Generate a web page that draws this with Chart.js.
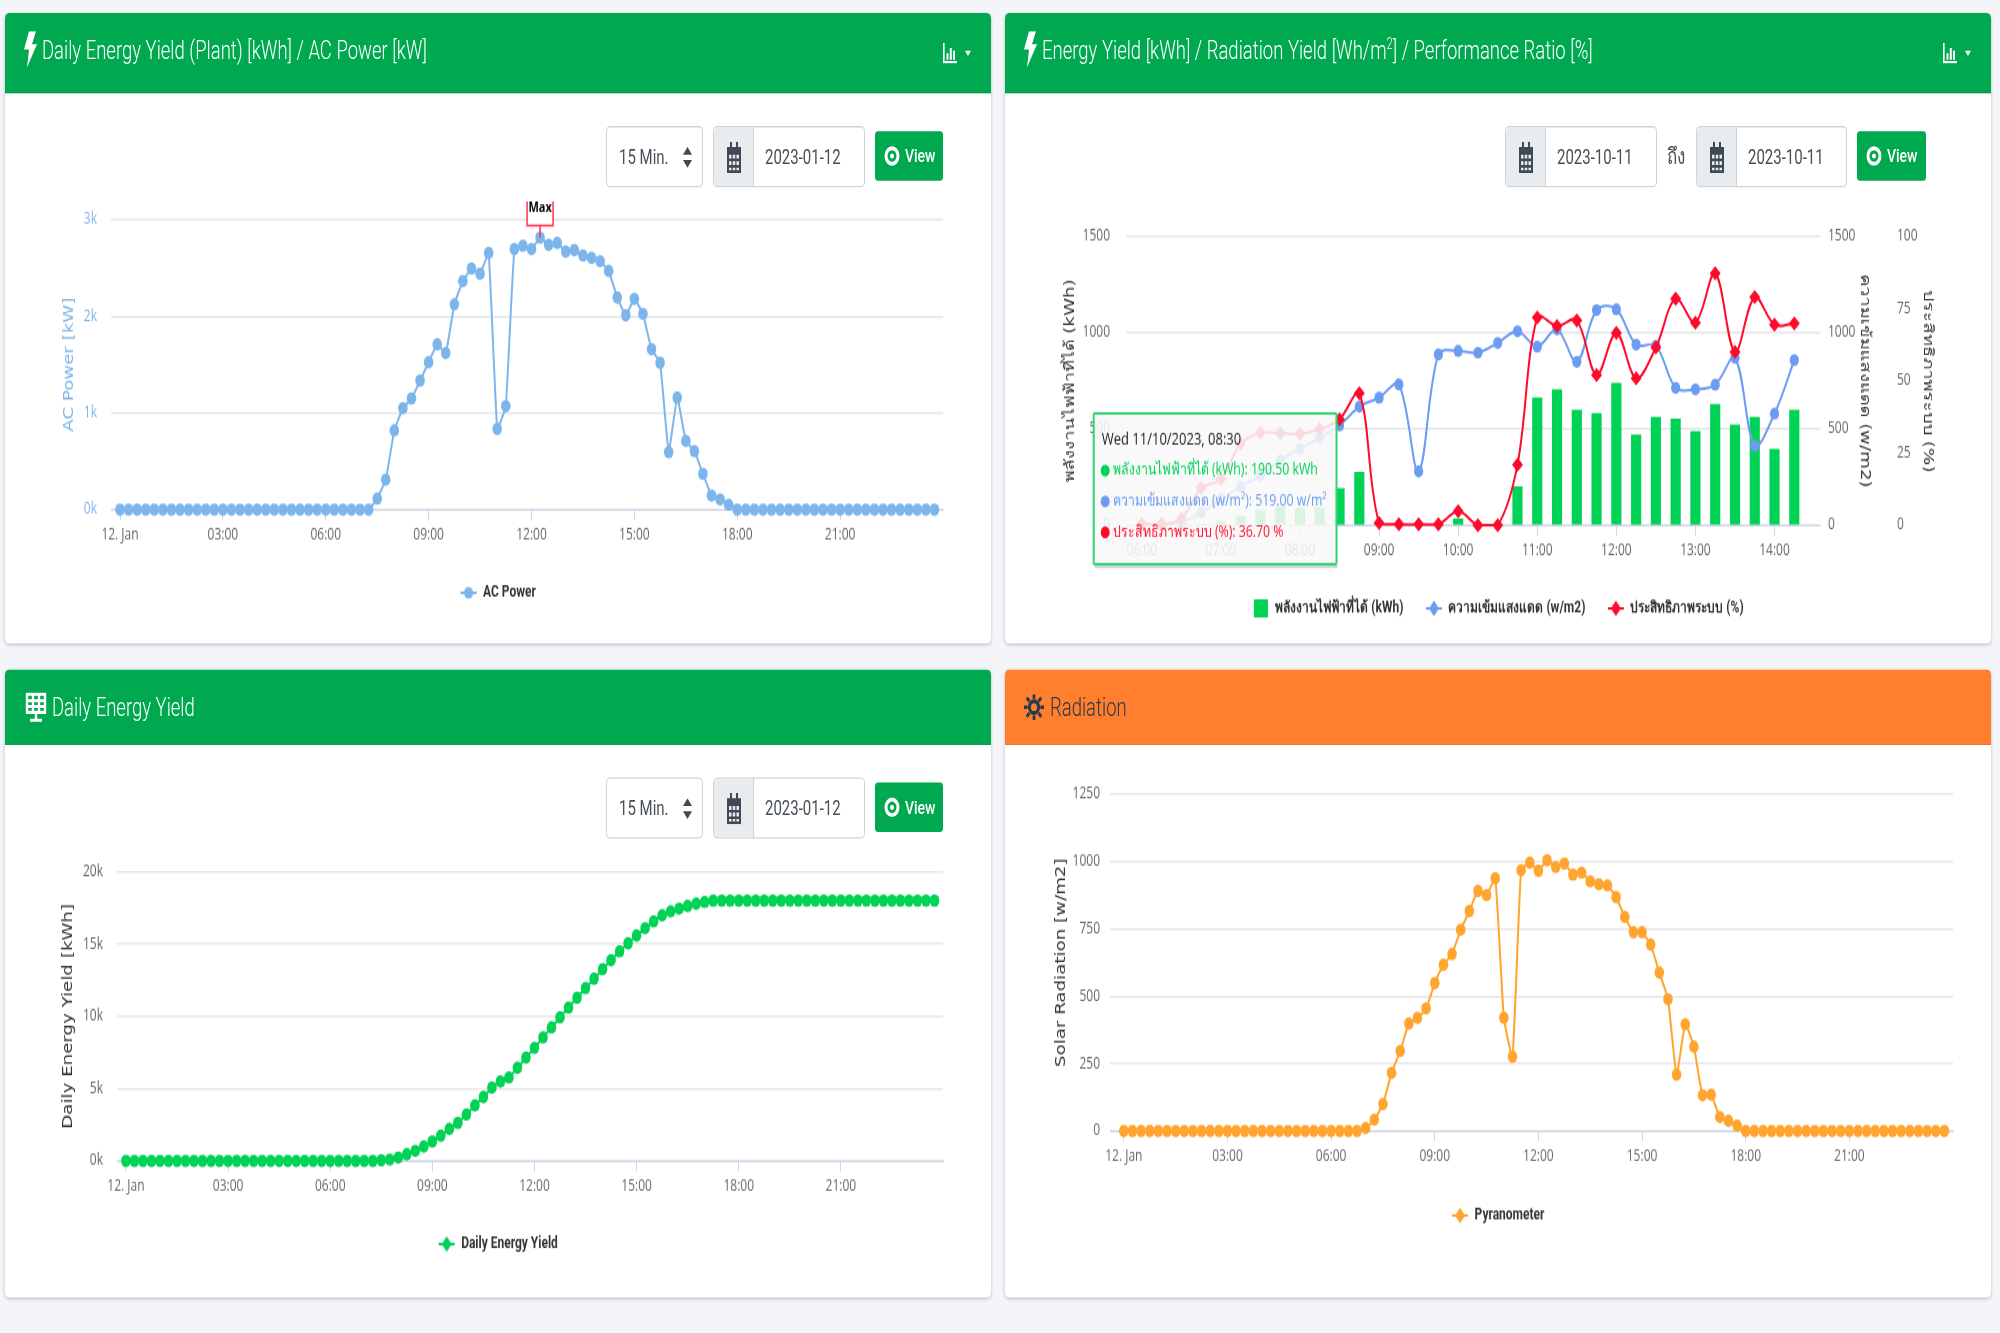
<!DOCTYPE html>
<html>
<head>
<meta charset="utf-8">
<title>Energy dashboard</title>
<script src="https://cdn.jsdelivr.net/npm/chart.js@4/dist/chart.umd.js"></script>
<style>
    html, body { margin: 0; background: #f3f5f9; overflow: hidden; }
    body { width: 2000px; height: 1333px; }
    /* the whole dashboard is stretched vertically, like the screenshot */
    #page { position: absolute; left: 0; top: 0; width: 2000px; height: 1026px; transform: scaleY(1.3); transform-origin: 0 0; font-family: "Roboto", "Open Sans", sans-serif; color: #495057; }
    .card { position: absolute; width: 986px; background: #fff; border-radius: 4px; box-shadow: 0 1px 3px rgba(0, 0, 0, .22); }
    .head { position: absolute; left: 0; top: 0; width: 100%; background: #00a94f; border-radius: 4px 4px 0 0; border-bottom: 1px solid rgba(0, 0, 0, .14); box-sizing: border-box; color: #fff; font-size: 20px; font-weight: 300; }
    .head.orange { background: #ff7f2e; color: #2b3a4a; }
    .head span { position: absolute; top: 50%; transform: translateY(-50%) scaleX(.925); transform-origin: 0 50%; white-space: nowrap; }
    .head.tall span { top: 46%; }
    .head sup { font-size: 12px; }
    .head svg { position: absolute; }
    .box { position: absolute; box-sizing: border-box; background: #fff; border: 1px solid #ced4da; border-radius: 4px; font-size: 15px; }
    .box b { position: absolute; top: 50%; transform: translateY(-50%); font-weight: 400; white-space: nowrap; }
    .prep { position: absolute; left: 0; top: 0; bottom: 0; width: 39px; background: #e9ecef; border-right: 1px solid #ced4da; border-radius: 4px 0 0 4px; }
    .prep svg { position: absolute; left: 13px; top: 11px; }
    .btn { position: absolute; background: #00a94f; border-radius: 3px; color: #fff; font-size: 14px; font-weight: 500; }
    .btn svg { position: absolute; left: 9px; top: 11px; }
    .btn b { position: absolute; left: 30px; top: 50%; transform: translateY(-50%); font-weight: 500; }
    .to { position: absolute; font-size: 17px; transform: translateY(-50%); }
    canvas { position: absolute; left: 0; }
</style>
</head>
<body>
<div id="page">
    <div class="card" style="left:5px;top:10px;height:485px">
        <div class="head tall" style="height:62px">
            <svg style="left:19px;top:14px" width="13" height="28" viewBox="0 0 13 28"><path fill="#fff" d="M5 0h7L8 10h5L3 28l2-14H0z"/></svg>
            <span style="left:37px">Daily Energy Yield (Plant) [kWh] / AC Power [kW]</span>
            <svg style="left:938px;top:23px" width="28" height="16" viewBox="0 0 28 16"><path fill="#fff" d="M0 0h1.6v14H14v1.6H0zM3.5 8h2v5h-2zM6.8 4h2v9h-2zM10 6h2v7h-2zM22 6h6l-3 4z"/></svg>
        </div>
        <canvas id="acChart" width="986" height="340" style="top:145px"></canvas>
        <div class="box" style="left:601px;top:87px;width:97px;height:47px"><b style="left:12px">15 Min.</b><svg style="position:absolute;left:76px;top:15px" width="9" height="16" viewBox="0 0 9 16"><path fill="#3f4a54" d="M0 6l4.5-6L9 6zM0 10l4.5 6L9 10z"/></svg></div>
        <div class="box" style="left:708px;top:87px;width:152px;height:47px"><div class="prep"><svg width="14" height="24" viewBox="0 0 14 24"><path fill="#3f4a54" d="M0 4h14v20H0zM3 0h2v4H3zM9 0h2v4H9z"/><path fill="#e9ecef" d="M2 10h2.500v3H2zM5.750 10h2.500v3h-2.500zM9.500 10H12v3H9.500zM2 15h2.500v3H2zM5.750 15h2.500v3h-2.500zM9.500 15H12v3H9.500zM2 20h2.500v2H2zM5.750 20h2.500v2h-2.500zM9.500 20H12v2H9.500z"/></svg></div><b style="left:51px">2023-01-12</b></div>
        <div class="btn" style="left:870px;top:91px;width:68px;height:38px"><svg width="16" height="16" viewBox="0 0 16 16"><circle cx="8" cy="8" r="6" fill="none" stroke="#fff" stroke-width="3"/><circle cx="8" cy="8" r="2" fill="#fff"/></svg><b>View</b></div>
    </div>

    <div class="card" style="left:1005px;top:10px;height:485px">
        <div class="head tall" style="height:62px">
            <svg style="left:19px;top:14px" width="13" height="28" viewBox="0 0 13 28"><path fill="#fff" d="M5 0h7L8 10h5L3 28l2-14H0z"/></svg>
            <span style="left:37px">Energy Yield [kWh] / Radiation Yield [Wh/m<sup>2</sup>] / Performance Ratio [%]</span>
            <svg style="left:938px;top:23px" width="28" height="16" viewBox="0 0 28 16"><path fill="#fff" d="M0 0h1.6v14H14v1.6H0zM3.5 8h2v5h-2zM6.8 4h2v9h-2zM10 6h2v7h-2zM22 6h6l-3 4z"/></svg>
        </div>
        <canvas id="yieldChart" width="986" height="345" style="top:140px"></canvas>
        <div class="box" style="left:500px;top:87px;width:152px;height:47px"><div class="prep"><svg width="14" height="24" viewBox="0 0 14 24"><path fill="#3f4a54" d="M0 4h14v20H0zM3 0h2v4H3zM9 0h2v4H9z"/><path fill="#e9ecef" d="M2 10h2.500v3H2zM5.750 10h2.500v3h-2.500zM9.500 10H12v3H9.500zM2 15h2.500v3H2zM5.750 15h2.500v3h-2.500zM9.500 15H12v3H9.500zM2 20h2.500v2H2zM5.750 20h2.500v2h-2.500zM9.500 20H12v2H9.500z"/></svg></div><b style="left:51px">2023-10-11</b></div>
        <div class="to" style="left:662px;top:110px">ถึง</div>
        <div class="box" style="left:691px;top:87px;width:151px;height:47px"><div class="prep"><svg width="14" height="24" viewBox="0 0 14 24"><path fill="#3f4a54" d="M0 4h14v20H0zM3 0h2v4H3zM9 0h2v4H9z"/><path fill="#e9ecef" d="M2 10h2.500v3H2zM5.750 10h2.500v3h-2.500zM9.500 10H12v3H9.500zM2 15h2.500v3H2zM5.750 15h2.500v3h-2.500zM9.500 15H12v3H9.500zM2 20h2.500v2H2zM5.750 20h2.500v2h-2.500zM9.500 20H12v2H9.500z"/></svg></div><b style="left:51px">2023-10-11</b></div>
        <div class="btn" style="left:852px;top:91px;width:69px;height:38px"><svg width="16" height="16" viewBox="0 0 16 16"><circle cx="8" cy="8" r="6" fill="none" stroke="#fff" stroke-width="3"/><circle cx="8" cy="8" r="2" fill="#fff"/></svg><b>View</b></div>
    </div>

    <div class="card" style="left:5px;top:515px;height:483px">
        <div class="head" style="height:58px">
            <svg style="left:19px;top:17px" width="24" height="24" viewBox="0 0 24 24"><path fill="none" stroke="#fff" stroke-width="2.4" d="M3 2h18v14H3zM3 7h18M3 11.500h18M9 2v14M15 2v14M12 16v5M6 22h12"/></svg>
            <span style="left:47px">Daily Energy Yield</span>
        </div>
        <canvas id="dailyChart" width="986" height="343" style="top:140px"></canvas>
        <div class="box" style="left:601px;top:83px;width:97px;height:47px"><b style="left:12px">15 Min.</b><svg style="position:absolute;left:76px;top:15px" width="9" height="16" viewBox="0 0 9 16"><path fill="#3f4a54" d="M0 6l4.5-6L9 6zM0 10l4.5 6L9 10z"/></svg></div>
        <div class="box" style="left:708px;top:83px;width:152px;height:47px"><div class="prep"><svg width="14" height="24" viewBox="0 0 14 24"><path fill="#3f4a54" d="M0 4h14v20H0zM3 0h2v4H3zM9 0h2v4H9z"/><path fill="#e9ecef" d="M2 10h2.500v3H2zM5.750 10h2.500v3h-2.500zM9.500 10H12v3H9.500zM2 15h2.500v3H2zM5.750 15h2.500v3h-2.500zM9.500 15H12v3H9.500zM2 20h2.500v2H2zM5.750 20h2.500v2h-2.500zM9.500 20H12v2H9.500z"/></svg></div><b style="left:51px">2023-01-12</b></div>
        <div class="btn" style="left:870px;top:87px;width:68px;height:38px"><svg width="16" height="16" viewBox="0 0 16 16"><circle cx="8" cy="8" r="6" fill="none" stroke="#fff" stroke-width="3"/><circle cx="8" cy="8" r="2" fill="#fff"/></svg><b>View</b></div>
    </div>

    <div class="card" style="left:1005px;top:515px;height:483px">
        <div class="head orange" style="height:58px">
            <svg style="left:19px;top:19px" width="20" height="20" viewBox="0 0 22 22"><circle cx="11" cy="11" r="5" fill="none" stroke="#2b3a4a" stroke-width="3.400"/><path stroke="#2b3a4a" stroke-width="3" d="M11 0v4M11 18v4M0 11h4M18 11h4M3 3l3 3M16 16l3 3M19 3l-3 3M6 16l-3 3"/></svg>
            <span style="left:45px">Radiation</span>
        </div>
        <canvas id="radiationChart" width="986" height="408" style="top:75px"></canvas>
    </div>
</div>

<script>
    // 15 minute slots, 00:00 is slot 0
    const dayTickSlots = [0, 12, 24, 36, 48, 60, 72, 84];
    const dayTickLabels = ["12. Jan", "03:00", "06:00", "09:00", "12:00", "15:00", "18:00", "21:00"];

    const acPower = [
        0, 0, 0, 0, 0, 0, 0, 0, 0, 0, 0, 0, 0, 0, 0, 0, 0, 0, 0, 0, 0, 0, 0, 0,
        0, 0, 0, 0, 0, 0, 114, 310, 820, 1050, 1150, 1335, 1525, 1710, 1620, 2125, 2365, 2495, 2440, 2655, 835, 1070, 2695, 2730,
        2695, 2815, 2740, 2760, 2670, 2685, 2630, 2605, 2570, 2470, 2195, 2010, 2180, 2025, 1660, 1520, 595, 1160, 710, 605, 370, 145, 105, 50,
        0, 0, 0, 0, 0, 0, 0, 0, 0, 0, 0, 0, 0, 0, 0, 0, 0, 0, 0, 0, 0, 0, 0, 0,
    ];
    const dailyEnergyYield = [
        0, 0, 0, 0, 0, 0, 0, 0, 0, 0, 0, 0, 0, 0, 0, 0, 0, 0, 0, 0, 0, 0, 0, 0,
        0, 0, 0, 0, 0, 0, 46, 93, 230, 465, 700, 1000, 1350, 1745, 2210, 2630, 3210, 3840, 4420, 5070, 5490, 5770, 6440, 7140,
        7815, 8535, 9230, 9930, 10605, 11280, 11950, 12600, 13255, 13880, 14490, 15045, 15580, 16095, 16560, 16975, 17255, 17440, 17625, 17790, 17905, 18000, 18000, 18000,
        18000, 18000, 18000, 18000, 18000, 18000, 18000, 18000, 18000, 18000, 18000, 18000, 18000, 18000, 18000, 18000, 18000, 18000, 18000, 18000, 18000, 18000, 18000, 18000,
    ];
    const pyranometer = [
        0, 0, 0, 0, 0, 0, 0, 0, 0, 0, 0, 0, 0, 0, 0, 0, 0, 0, 0, 0, 0, 0, 0, 0,
        0, 0, 0, 0, 11, 42, 100, 216, 297, 399, 420, 455, 549, 617, 657, 747, 816, 891, 876, 938, 420, 276, 968, 996,
        966, 1005, 980, 993, 952, 959, 927, 916, 912, 868, 795, 738, 738, 692, 588, 489, 209, 396, 313, 133, 135, 52, 38, 20,
        0, 0, 0, 0, 0, 0, 0, 0, 0, 0, 0, 0, 0, 0, 0, 0, 0, 0, 0, 0, 0, 0, 0, 0,
    ];

    // 11/10/2023 chart, slot 0 is 06:00
    const yieldTickSlots = [0, 4, 8, 12, 16, 20, 24, 28, 32];
    const yieldTickLabels = ["06:00", "07:00", "08:00", "09:00", "10:00", "11:00", "12:00", "13:00", "14:00"];
    const energyKwh = [0, 0, 0, 0, 17, 47, 77, 96, 88, 91, 190.5, 275, 0, 0, 0, 0, 33, 0, 0, 200, 662, 704, 597, 580, 737, 469, 561, 552, 487, 628, 521, 561, 394, 597];
    const radiation = [0, 0, 15, 65, 135, 200, 258, 337, 398, 454, 519, 616, 663, 732, 280, 887, 906, 897, 947, 1008, 928, 1018, 849, 1118, 1122, 939, 932, 714, 706, 730, 870, 412, 580, 858];
    const performance = [0.5, 0.5, 2.3, 12.9, 16, 28.3, 32, 32, 31.6, 33.3, 36.7, 45.7, 0.8, 0.3, 0.3, 0.3, 4.8, 0, 0, 21, 72, 69, 71, 52, 66.7, 50.9, 61.6, 78.5, 70.2, 87.3, 60, 79, 69.5, 69.9];
    const yieldLegend = ["พลังงานไฟฟ้าที่ได้ (kWh)", "ความเข้มแสงแดด (w/m2)", "ประสิทธิภาพระบบ (%)"];
    const yieldTooltipNames = ["พลังงานไฟฟ้าที่ได้ (kWh)", "ความเข้มแสงแดด (w/m²)", "ประสิทธิภาพระบบ (%)"];
    const yieldTooltipUnits = ["kWh", "w/m²", "%"];
    const tooltipTitle = "Wed 11/10/2023, 08:30";
    const tooltipSlot = 10;

    const maxSlot = 49;

    const GREEN = "#00d255";
    const BLUE = "#6c9bf2";
    const RED = "#ff0a2a";
    const FONT = "'Open Sans', 'Noto Sans', sans-serif";
    const TITLE_FONT = "'DejaVu Sans', sans-serif";

    Chart.defaults.font.family = FONT;
    Chart.defaults.font.size = 12;
    Chart.defaults.color = "#666";
    Chart.defaults.animation = false;

    // Fixed spot for the tooltip, its right side touches the hovered point
    Chart.Tooltip.positioners.beside = function (items) {
        if (!items.length) return false;
        return { x: items[0].element.x - 4, y: this.chart.chartArea.top + 136 };
    };

    // Legend symbol: a short line with a marker on it
    function lineIcon(color, diamond) {
        const icon = document.createElement("canvas");
        icon.width = 20;
        icon.height = 14;
        const ctx = icon.getContext("2d");
        ctx.fillStyle = ctx.strokeStyle = color;
        ctx.lineWidth = 2;
        ctx.beginPath();
        ctx.moveTo(2, 7);
        ctx.lineTo(18, 7);
        ctx.stroke();
        ctx.beginPath();
        if (diamond) {
            ctx.moveTo(10, 1);
            ctx.lineTo(15, 7);
            ctx.lineTo(10, 13);
            ctx.lineTo(5, 7);
            ctx.closePath();
        } else {
            ctx.arc(10, 7, 4.5, 0, Math.PI * 2);
        }
        ctx.fill();
        return icon;
    }

    function boxIcon(color) {
        const icon = document.createElement("canvas");
        icon.width = 16;
        icon.height = 14;
        const ctx = icon.getContext("2d");
        ctx.fillStyle = color;
        ctx.fillRect(1, 0, 14, 14);
        return icon;
    }

    function legendOptions(texts, icons, padding) {
        return {
            position: "bottom",
            labels: {
                usePointStyle: true,
                pointStyleWidth: 17,
                padding: padding,
                color: "#333",
                font: { family: "Roboto, " + FONT, size: 12, weight: "bold" },
                generateLabels: () => texts.map((text, i) => ({
                    text: text,
                    pointStyle: icons[i],
                    datasetIndex: i,
                    fontColor: "#333",
                    lineWidth: 0,
                })),
            },
        };
    }

    function xAxis(tickSlots, tickLabels, min, max, height) {
        return {
            type: "linear",
            offset: false,
            min: min,
            max: max,
            afterBuildTicks: (scale) => {
                scale.ticks = tickSlots.map((slot) => ({ value: slot }));
            },
            afterFit: (scale) => {
                scale.height = height;
            },
            border: { color: "#ccd6eb" },
            grid: { offset: false, drawOnChartArea: false, tickLength: 8, tickColor: "#ccd6eb" },
            ticks: {
                autoSkip: false,
                maxRotation: 0,
                padding: 4,
                callback: (value) => tickLabels[tickSlots.indexOf(value)],
            },
        };
    }

    function yAxis(opts) {
        return {
            position: opts.position || "left",
            min: 0,
            max: opts.max,
            afterFit: (scale) => {
                scale.width = opts.width;
                // tick padding must not push the plot area down
                scale.paddingTop = 0;
                scale.paddingBottom = 0;
            },
            border: { display: false },
            grid: opts.noGrid ? { display: false } : { color: "#e6e6e6", lineWidth: 1.5, drawTicks: false },
            ticks: {
                stepSize: opts.step,
                padding: opts.tickPad,
                color: opts.color || "#666",
                callback: opts.format || ((value) => value),
            },
            title: {
                display: true,
                text: opts.title,
                color: opts.titleColor || "#333",
                padding: { top: opts.titlePad, bottom: 0 },
                font: { family: TITLE_FONT, size: 14 },
            },
        };
    }

    // Small flag above the highest point of the AC power line
    const maxFlag = {
        id: "maxFlag",
        afterDatasetsDraw(chart) {
            const point = chart.getDatasetMeta(0).data[maxSlot];
            const ctx = chart.ctx;
            ctx.save();
            ctx.strokeStyle = "#ff3355";
            ctx.lineWidth = 1.5;
            ctx.fillStyle = "#fff";
            ctx.beginPath();
            ctx.rect(point.x - 13, -10, 26, 28.5);
            ctx.fill();
            ctx.stroke();
            ctx.beginPath();
            ctx.moveTo(point.x, 18.5);
            ctx.lineTo(point.x, point.y);
            ctx.stroke();
            ctx.fillStyle = "#000";
            ctx.font = "bold 11px " + FONT;
            ctx.textAlign = "center";
            ctx.fillText("Max", point.x, 5);
            ctx.restore();
        },
    };

    function dayChart(id, cfg) {
        return new Chart(document.getElementById(id), {
            type: "line",
            data: {
                datasets: [
                    {
                        label: cfg.legend,
                        data: cfg.values.map((y, x) => ({ x: x, y: y })),
                        borderColor: cfg.color,
                        backgroundColor: cfg.color,
                        borderWidth: 2,
                        pointRadius: 4.8,
                        pointBorderWidth: 0,
                        tension: cfg.tension,
                        clip: false,
                    },
                ],
            },
            options: {
                responsive: false,
                devicePixelRatio: 1,
                events: [],
                layout: { padding: cfg.padding },
                plugins: {
                    legend: legendOptions([cfg.legend], [lineIcon(cfg.color, cfg.diamond)], 10),
                    tooltip: { enabled: false },
                },
                scales: {
                    x: xAxis(dayTickSlots, dayTickLabels, cfg.xMin, cfg.xMax, cfg.xHeight),
                    y: yAxis(cfg.y),
                },
            },
            plugins: cfg.plugins || [],
        });
    }

    dayChart("acChart", {
        legend: "AC Power",
        values: acPower,
        color: "#7cb5ec",
        tension: 0.1,
        padding: { top: 14, bottom: 23, left: 48, right: 48 },
        xHeight: 48,
        xMin: -1.05,
        xMax: 96,
        y: { max: 3000, step: 1000, width: 58, tickPad: 14, color: "#7cb5ec", titleColor: "#7cb5ec", titlePad: 8, title: "AC Power [kW]", format: (value) => value / 1000 + "k" },
        plugins: [maxFlag],
    });

    dayChart("dailyChart", {
        legend: "Daily Energy Yield",
        values: dailyEnergyYield,
        color: GREEN,
        diamond: true,
        tension: 0.1,
        padding: { top: 15.5, bottom: 25, left: 48, right: 48 },
        xHeight: 48,
        xMin: -1.05,
        xMax: 96,
        y: { max: 20000, step: 5000, width: 64, tickPad: 14, titlePad: 7, title: "Daily Energy Yield [kWh]", format: (value) => value / 1000 + "k" },
    });

    dayChart("radiationChart", {
        legend: "Pyranometer",
        values: pyranometer,
        color: "#ffa52f",
        diamond: true,
        tension: 0.15,
        padding: { top: 21, bottom: 47, left: 38, right: 38 },
        xHeight: 49,
        xMin: -1.6,
        xMax: 96,
        y: { max: 1250, step: 250, width: 67, tickPad: 10, titlePad: 10, title: "Solar Radiation [w/m2]" },
    });

    const yieldChart = new Chart(document.getElementById("yieldChart"), {
        type: "bar",
        data: {
            datasets: [
                {
                    type: "line",
                    label: yieldLegend[1],
                    data: radiation.map((y, x) => ({ x: x, y: y })),
                    yAxisID: "y",
                    order: 2,
                    borderColor: BLUE,
                    backgroundColor: BLUE,
                    borderWidth: 2,
                    pointRadius: 4.6,
                    pointBorderWidth: 0,
                    tension: 0.35,
                    clip: false,
                },
                {
                    type: "line",
                    label: yieldLegend[2],
                    data: performance.map((y, x) => ({ x: x, y: y })),
                    yAxisID: "yPct",
                    order: 1,
                    borderColor: RED,
                    backgroundColor: RED,
                    borderWidth: 2,
                    pointStyle: "rectRot",
                    pointRadius: 5.5,
                    pointBorderWidth: 0,
                    tension: 0.35,
                    clip: false,
                },
                {
                    type: "bar",
                    label: yieldLegend[0],
                    data: energyKwh.map((y, x) => ({ x: x, y: y })),
                    yAxisID: "y",
                    order: 3,
                    backgroundColor: GREEN,
                    barThickness: 9.5,
                },
            ],
        },
        options: {
            responsive: false,
            devicePixelRatio: 1,
            events: [],
            layout: { padding: { top: 32, bottom: 11, left: 51, right: 51 } },
            plugins: {
                legend: legendOptions(yieldLegend, [boxIcon(GREEN), lineIcon(BLUE, true), lineIcon(RED, true)], 22),
                tooltip: {
                    position: "beside",
                    mode: "index",
                    xAlign: "right",
                    yAlign: "top",
                    caretSize: 0,
                    caretPadding: 0,
                    cornerRadius: 1,
                    backgroundColor: "rgba(248, 248, 248, .88)",
                    borderColor: "#2fd573",
                    borderWidth: 2,
                    padding: { left: 8, right: 10, top: 12, bottom: 17 },
                    titleColor: "#222",
                    titleFont: { size: 13, weight: "normal" },
                    titleMarginBottom: 9,
                    bodyFont: { size: 12.3 },
                    bodySpacing: 9,
                    usePointStyle: true,
                    boxWidth: 7,
                    boxHeight: 7,
                    boxPadding: 2,
                    itemSort: (a, b) => b.dataset.order - a.dataset.order,
                    callbacks: {
                        title: () => tooltipTitle,
                        label: (item) => {
                            const k = yieldLegend.indexOf(item.dataset.label);
                            return yieldTooltipNames[k] + ": " + item.parsed.y.toFixed(2) + " " + yieldTooltipUnits[k];
                        },
                        labelPointStyle: () => ({ pointStyle: "circle", rotation: 0 }),
                        labelColor: (item) => ({ backgroundColor: item.dataset.backgroundColor, borderColor: item.dataset.backgroundColor }),
                        labelTextColor: (item) => item.dataset.backgroundColor,
                    },
                },
            },
            scales: {
                x: xAxis(yieldTickSlots, yieldTickLabels, -0.8, 34.3, 36),
                y: yAxis({ max: 1500, step: 500, width: 70, tickPad: 16, titlePad: 6, title: yieldLegend[0] }),
                yRad: yAxis({ position: "right", max: 1500, step: 500, width: 60, tickPad: 0, noGrid: true, titlePad: 7, title: yieldLegend[1] }),
                yPct: yAxis({ position: "right", max: 100, step: 25, width: 60, tickPad: 9, noGrid: true, titlePad: 4, title: yieldLegend[2] }),
            },
        },
        plugins: [
            {
                // soft shadow under the tooltip box
                id: "tooltipShadow",
                beforeTooltipDraw(chart, args) {
                    const tip = args.tooltip;
                    const ctx = chart.ctx;
                    ctx.save();
                    ctx.fillStyle = "rgba(0, 0, 0, .18)";
                    ctx.fillRect(tip.x + 1, tip.y + tip.height + 1, tip.width, 2);
                    ctx.restore();
                },
            },
        ],
    });

    // Tooltip stays open on the 08:30 slot
    const hovered = [2, 0, 1].map((datasetIndex) => ({ datasetIndex: datasetIndex, index: tooltipSlot }));
    yieldChart.tooltip.setActiveElements(hovered, { x: 0, y: 0 });
    yieldChart.update();
</script>
</body>
</html>
